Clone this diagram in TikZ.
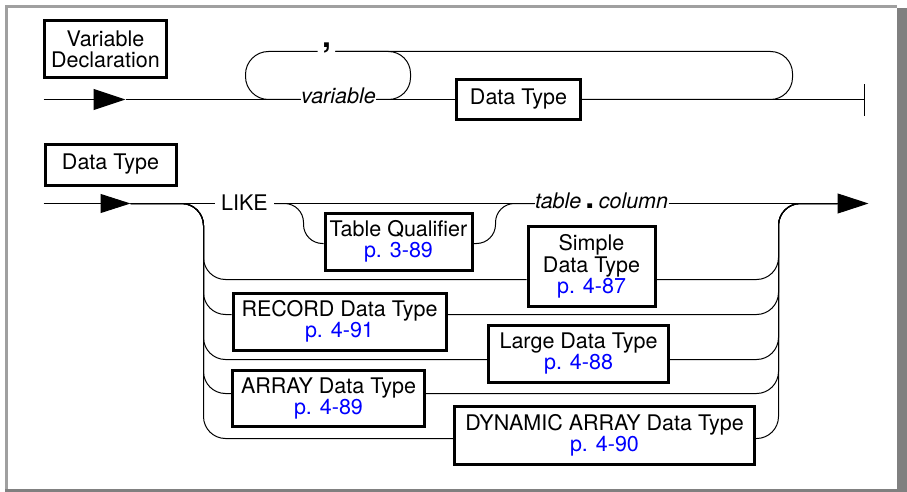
\documentclass[tikz,border=0pt]{standalone}
\usepackage{fontspec}
\setmainfont{TeX Gyre Heros}
\usetikzlibrary{backgrounds,arrows.meta}
\definecolor{pblue}{RGB}{0,0,255}
\definecolor{framelight}{RGB}{160,160,160}
\definecolor{framedark}{RGB}{128,128,128}
\newcommand{\pagelink}[1]{\textcolor{pblue}{#1}}
\begin{document}
\begin{tikzpicture}[x=1pt,y=-1pt,
  every node/.style={font=\fontsize{21.5}{21.5}\selectfont},
  box/.style={draw,line width=3pt,fill=white,align=center,inner sep=0pt},
  lbl/.style={fill=white,inner sep=0pt},
  every path/.style={line width=1pt}]
\useasboundingbox (0,0) rectangle (907,492);

% frame
\begin{scope}[on background layer]
  \fill[framelight] (5,5) rectangle (897,8);
  \fill[framelight] (5,5) rectangle (8,489);
  \fill[framedark] (897,8) rectangle (907,492);
  \fill[framedark] (5,489) rectangle (907,492);
\end{scope}

\begin{scope}[shift={(0.5,0.5)}]
% ---------- boxes ----------
\node[box,minimum width=122pt,minimum height=57pt] (vd) at (105,49) {Variable\\Declaration};
\node[box,minimum width=124pt,minimum height=40pt] (dt1) at (518,99) {Data Type};
\node[box,minimum width=131pt,minimum height=41pt] (dth) at (110,164) {Data Type};
\node[box,minimum width=147pt,minimum height=57pt] (tq) at (398,241) {Table Qualifier\\\pagelink{p. 3-89}};
\node[box,minimum width=127pt,minimum height=80pt] (sdt) at (591,266) {Simple\\Data Type\\\pagelink{p. 4-87}};
\node[box,minimum width=213pt,minimum height=57pt] (rec) at (339,321) {RECORD Data Type\\\pagelink{p. 4-91}};
\node[box,minimum width=180pt,minimum height=57pt] (ldt) at (578,353) {Large Data Type\\\pagelink{p. 4-88}};
\node[box,minimum width=192pt,minimum height=56pt] (arr) at (328,398) {ARRAY Data Type\\\pagelink{p. 4-89}};
\node[box,minimum width=300pt,minimum height=58pt] (dyn) at (604,435) {DYNAMIC ARRAY Data Type\\\pagelink{p. 4-90}};

% ---------- labels on lines ----------
\node[lbl,text height=10pt,text depth=1pt] (var) at (338,99) {\itshape variable};
\node[lbl,text height=0pt,text depth=7pt,inner xsep=4pt] (cm) at (326,51) {\fontsize{32}{32}\selectfont\bfseries ,};
\node[lbl,text height=13pt,text depth=0pt,inner xsep=6pt] (like) at (244,203) {LIKE};
\node[lbl,text height=10pt,text depth=0pt,anchor=west] (tc) at (534,203)
  {\itshape table\hspace{4pt}{\fontsize{32}{32}\selectfont\bfseries\upshape .}\hspace{4.5pt}column\hspace{6pt}};

% ---------- coordinates ----------
\coordinate (s1) at (43,99);
\coordinate (a1) at (125,99);
\coordinate (e1) at (864,99);
\coordinate (e1t) at (864,84);
\coordinate (e1b) at (864,116);
\coordinate (s2) at (43,203);
\coordinate (a2) at (130,203);
\coordinate (m2) at (837,203);
\coordinate (a3) at (868,203);

\begin{scope}[on background layer]
  % ----- Variable Declaration -----
  \draw[-{Triangle[length=32pt,width=21pt]}] (s1) -- (a1);
  \draw (a1) -- (var);
  \draw (var) -- (dt1);
  \draw (dt1) -- (e1);
  \draw (e1t) -- (e1b);
  \draw[rounded corners=23pt] (var) -| (245,51) -- (cm);
  \draw[rounded corners=22pt] (cm) -| (410,99) -- (var);
  \draw[rounded corners=22pt] (cm) -| (792,99) -- (dt1);

  % ----- Data Type -----
  \draw[-{Triangle[length=30pt,width=19pt]}] (s2) -- (a2);
  \draw (a2) -- (like);
  \draw (like) -- (tc);
  \draw[-{Triangle[length=31pt,width=20pt]}] (tc) -- (a3);
  \draw[rounded corners=19pt] (like) -| (303,243) -- (tq.west |- 0,243);
  \draw[rounded corners=19pt] (tq.east |- 0,243) -| (495,203) -- (tc);

  % left rail
  \draw[rounded corners=22pt] (a2) -| (203,279) -- (sdt.west |- 0,279);
  \draw[rounded corners=22pt] (a2) -| (203,314) -- (rec.west |- 0,314);
  \draw[rounded corners=22pt] (a2) -| (203,359) -- (ldt.west |- 0,359);
  \draw[rounded corners=22pt] (a2) -| (203,393) -- (arr.west |- 0,393);
  \draw[rounded corners=22pt] (a2) -| (203,438) -- (dyn.west |- 0,438);
  % right rail
  \draw[rounded corners=22pt] (sdt.east |- 0,279) -| (778,203) -- (m2);
  \draw[rounded corners=22pt] (rec.east |- 0,314) -| (778,203) -- (m2);
  \draw[rounded corners=22pt] (ldt.east |- 0,359) -| (778,203) -- (m2);
  \draw[rounded corners=22pt] (arr.east |- 0,393) -| (778,203) -- (m2);
  \draw[rounded corners=22pt] (dyn.east |- 0,438) -| (778,203) -- (m2);
\end{scope}
\end{scope}
\end{tikzpicture}
\end{document}
